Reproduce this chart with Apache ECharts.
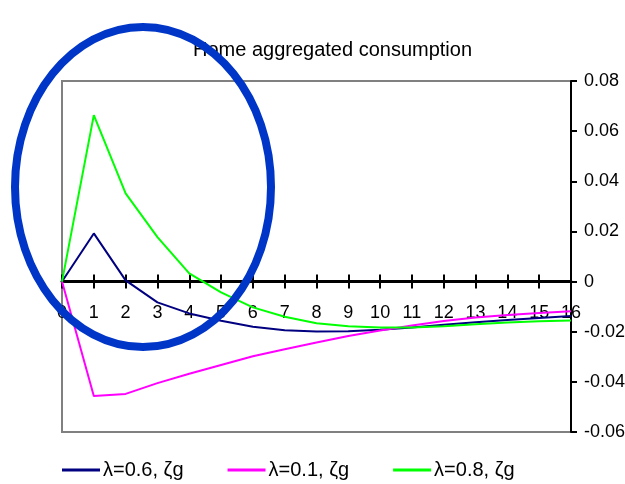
<!DOCTYPE html>
<html>
<head>
<meta charset="utf-8">
<script src="https://cdn.jsdelivr.net/npm/echarts@6/dist/echarts.min.js"></script>
<style>
  html, body { margin: 0; padding: 0; background: #fff; }
  #chart { width: 625px; height: 484px; }
</style>
</head>
<body>
<div id="chart"></div>
<script>
// Quarters after the shock
const periods = [0, 1, 2, 3, 4, 5, 6, 7, 8, 9, 10, 11, 12, 13, 14, 15, 16];

// Impulse responses of home aggregated consumption
const lambda06 = [0, 0.0192, 0.0005, -0.0083, -0.0127, -0.0156, -0.0180, -0.0194, -0.0199, -0.0198, -0.0192, -0.0183, -0.0172, -0.0162, -0.0153, -0.0145, -0.0137];
const lambda01 = [0, -0.0456, -0.0448, -0.0405, -0.0368, -0.0333, -0.0298, -0.0270, -0.0243, -0.0217, -0.0195, -0.0175, -0.0157, -0.0143, -0.0133, -0.0125, -0.0118];
const lambda08 = [0, 0.0664, 0.0352, 0.0177, 0.0033, -0.0043, -0.0103, -0.0140, -0.0166, -0.0178, -0.0183, -0.0183, -0.0178, -0.0170, -0.0163, -0.0158, -0.0155];

const seriesNames = ['λ=0.6, ζg', 'λ=0.1, ζg', 'λ=0.8, ζg'];
const seriesColors = ['#000080', '#ff00ff', '#00ff00'];
const yTicks = [-0.06, -0.04, -0.02, 0, 0.02, 0.04, 0.06, 0.08];

const pairs = arr => periods.map((p, i) => [p, arr[i]]);
const labelFont = 'Liberation Sans, Arial, sans-serif';

// Plot box and the pixel row of the zero line, so the period axis can sit on it
const gridTop = 81, gridBottom = 52, chartHeight = 484;
const yMin = yTicks[0], yMax = yTicks[yTicks.length - 1];
const plotHeight = chartHeight - gridTop - gridBottom;
const zeroOffset = -plotHeight * (0 - yMin) / (yMax - yMin);

const chart = echarts.init(document.getElementById('chart'), null, { renderer: 'canvas' });

const option = {
  animation: false,
  backgroundColor: '#ffffff',
  title: {
    text: 'Home aggregated consumption',
    left: 188,
    top: 35,
    textStyle: { fontFamily: labelFont, fontSize: 20, fontWeight: 'normal', color: '#000' }
  },
  grid: {
    left: 62, right: 54, top: gridTop, bottom: gridBottom,
    outerBoundsMode: 'none', containLabel: false,
    show: true, borderColor: '#808080', borderWidth: 2, backgroundColor: 'transparent'
  },
  legend: {
    top: 455,
    left: 57,
    icon: 'rect',
    itemWidth: 38,
    itemHeight: 3,
    itemGap: 44,
    textStyle: { fontFamily: labelFont, fontSize: 20, color: '#000', padding: [0, 0, 0, -2] },
    data: seriesNames
  },
  xAxis: [{
    type: 'value', min: 0, max: 16, interval: 1,
    position: 'bottom', offset: zeroOffset,
    axisLine: { onZero: false, lineStyle: { color: '#000', width: 3 } },
    axisTick: { show: true, inside: false, length: 7, lineStyle: { color: '#000', width: 2 } },
    axisLabel: { fontFamily: labelFont, fontSize: 18, color: '#000', margin: 22 },
    splitLine: { show: false }
  }, {
    type: 'value', min: 0, max: 16, interval: 1,
    position: 'bottom', offset: zeroOffset,
    axisLine: { onZero: false, show: false },
    axisTick: { show: true, inside: true, length: 7, lineStyle: { color: '#000', width: 2 } },
    axisLabel: { show: false },
    splitLine: { show: false }
  }],
  yAxis: {
    type: 'value', position: 'right', min: yMin, max: yMax, interval: 0.02,
    axisLine: { show: true, onZero: false, lineStyle: { color: '#000', width: 2 } },
    axisTick: { show: true, length: 6, lineStyle: { color: '#000', width: 2 } },
    axisLabel: {
      fontFamily: labelFont, fontSize: 18, color: '#000', margin: 13,
      formatter: v => {
        const r = Math.round(v * 100) / 100;
        return r === 0 ? '0' : r.toFixed(2);
      }
    },
    splitLine: { show: false }
  },
  series: [
    { name: seriesNames[0], type: 'line', data: pairs(lambda06), color: seriesColors[0], showSymbol: false, lineStyle: { width: 2 }, z: 3 },
    { name: seriesNames[1], type: 'line', data: pairs(lambda01), color: seriesColors[1], showSymbol: false, lineStyle: { width: 2 }, z: 3 },
    { name: seriesNames[2], type: 'line', data: pairs(lambda08), color: seriesColors[2], showSymbol: false, lineStyle: { width: 2 }, z: 3 }
  ],
  graphic: [{
    type: 'ellipse',
    shape: { cx: 143, cy: 187, rx: 128, ry: 160 },
    style: { fill: 'none', stroke: '#0036c8', lineWidth: 8 },
    z: 100
  }]
};

chart.setOption(option);
</script>
</body>
</html>
